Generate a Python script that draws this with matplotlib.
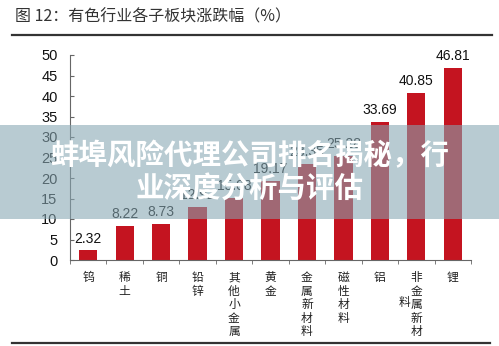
import matplotlib
matplotlib.use("Agg")
import matplotlib.pyplot as plt
from matplotlib.patches import Rectangle
from matplotlib.lines import Line2D

plt.rcParams['font.family'] = ['Liberation Sans', 'Noto Sans CJK SC', 'DejaVu Sans']

# data
sectors = ['钨', '稀土', '铜', '铅锌', '其他小金属', '黄金', '金属新材料',
           '磁性材料', '铝', '非金属新材料', '锂']
changes = [2.32, 8.22, 8.73, 12.92, 15.08, 19.17, 23.35, 25.28, 33.69, 40.85, 46.81]
yticks = list(range(0, 51, 5))

W, H = 499, 346
fig = plt.figure(figsize=(W / 100, H / 100), dpi=100)
ax = fig.add_axes([70 / W, 1 - 260 / H, 401 / W, 205 / H])

x = range(len(sectors))
ax.bar(x, changes, width=0.5, color='#C41420')
for xi, v in zip(x, changes):
    ax.text(xi, v + 1.2, f'{v:.2f}', ha='center', va='bottom', fontsize=10, color='#111111')

ax.set_xlim(-0.5, len(sectors) - 0.5)
ax.set_ylim(0, 50)
ax.set_yticks(yticks)
ax.tick_params(axis='y', direction='in', length=3, labelsize=10.5, colors='#111111', pad=9)
ax.tick_params(axis='y', color='#666666')
for s in ['top', 'right']:
    ax.spines[s].set_visible(False)
for s in ['left', 'bottom']:
    ax.spines[s].set_color('#666666')

# x labels written vertically, one character per line
labels = ['\n'.join(s) for s in sectors]
labels[9] = '\n'.join('非金属新材')
ax.set_xticks(list(x))
ax.set_xticklabels(labels, fontsize=8.5, family=['Noto Sans CJK SC'], linespacing=1.05,
                   color='#222222', va='top')
ax.tick_params(axis='x', length=0, pad=8)
ax.set_xticks([i - 0.5 for i in range(len(sectors) + 1)], minor=True)
ax.tick_params(axis='x', which='minor', direction='out', length=3, color='#666666')
# the stray character beside the last-but-one label
ax.text(9 - 0.33, -10.3, '料', fontsize=8.5, family=['Noto Sans CJK SC'], ha='center',
        va='center', color='#222222')

# title and rules
fig.text(15 / W, 1 - 17 / H, '图 12：有色行业各子板块涨跌幅（%）', fontsize=11.5,
         family=['Noto Sans CJK SC'], color='#333333', va='center')
fig.add_artist(Line2D([12 / W, 492 / W], [1 - 35 / H] * 2, color='#333333', lw=1.6))
fig.add_artist(Line2D([12 / W, 490 / W], [1 - 343 / H] * 2, color='#333333', lw=1.6))

# translucent banner across the middle
fig.add_artist(Rectangle((0, 1 - 219 / H), 1, 94 / H, transform=fig.transFigure,
                         color='#86A6B2', alpha=0.58, zorder=5, lw=0))
fig.text(0.5, 1 - 173 / H, '蚌埠风险代理公司排名揭秘，行\n业深度分析与评估', ha='center',
         va='center', fontsize=20.5, fontweight='bold', color='white', linespacing=1.25,
         family=['Noto Sans CJK SC'], zorder=6)

fig.savefig('out.png', dpi=100)
